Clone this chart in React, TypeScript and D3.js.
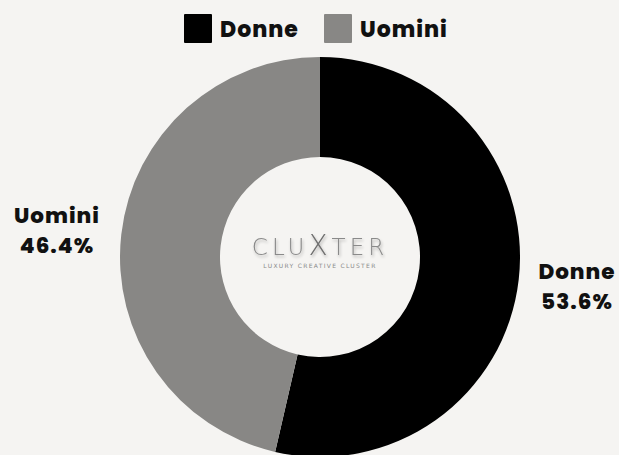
import React from "react";
import * as d3 from "d3";

const categories = ["Donne", "Uomini"];
const values = [53.6, 46.4];
const colors = ["#000000", "#888785"];

const W = 619;
const H = 455;
const cx = 320;
const cy = 257;
const outerR = 200;
const innerR = 100;
const FONT = "Poppins, 'Open Sans', Inter, sans-serif";

export default function App() {
  const pie = d3.pie<number>().sort(null).value((d) => d)(values);
  const arc = d3.arc<d3.PieArcDatum<number>>().innerRadius(innerR).outerRadius(outerR);
  const labelPos = [
    { x: 577, y: 279, anchor: "middle" },
    { x: 57, y: 223, anchor: "middle" },
  ];
  const legendX = [184, 324];
  return (
    <svg width={W} height={H} style={{ position: "absolute", left: 0, top: 0, background: "#f5f4f2" }}>
      <defs>
        <filter id="sh" x="-10%" y="-30%" width="120%" height="160%">
          <feGaussianBlur in="SourceAlpha" stdDeviation="1.5" />
          <feOffset dx="1" dy="2" result="b" />
          <feComponentTransfer><feFuncA type="linear" slope="0.3" /></feComponentTransfer>
          <feMerge><feMergeNode /><feMergeNode in="SourceGraphic" /></feMerge>
        </filter>
      </defs>
      <rect width={W} height={H} fill="#f5f4f2" />
      <g transform={`translate(${cx},${cy})`}>
        {pie.map((p, i) => (
          <path key={i} d={arc(p) || ""} fill={colors[i]} />
        ))}
      </g>
      {categories.map((c, i) => (
        <g key={c}>
          <rect x={legendX[i]} y={14} width={28} height={29} fill={colors[i]} rx={1} />
          <text x={legendX[i] + 36} y={37} fontFamily={FONT} fontWeight={800} fontSize={22} letterSpacing={1} fill="#111">{c}</text>
        </g>
      ))}
      {categories.map((c, i) => (
        <text key={c} x={labelPos[i].x} y={labelPos[i].y} textAnchor={labelPos[i].anchor as any} fontFamily={FONT} fontWeight={800} fontSize={21.5} letterSpacing={1} fill="#111">
          <tspan x={labelPos[i].x}>{c}</tspan>
          <tspan x={labelPos[i].x} dy={30}>{values[i].toFixed(1)}%</tspan>
        </text>
      ))}
      <g filter="url(#sh)">
        <text x={cx} y={255} textAnchor="middle" fontFamily="'DejaVu Sans', sans-serif" fontWeight={300} fontSize={23} letterSpacing={4} fill="#8a8a8a">
          CLU<tspan fill="#6f6f6f" fontSize={28}>X</tspan>TER
        </text>
      </g>
      <text x={cx} y={268} textAnchor="middle" fontFamily="'DejaVu Sans', sans-serif" fontSize={6} letterSpacing={1.3} fill="#8a8a8a">LUXURY CREATIVE CLUSTER</text>
    </svg>
  );
}
